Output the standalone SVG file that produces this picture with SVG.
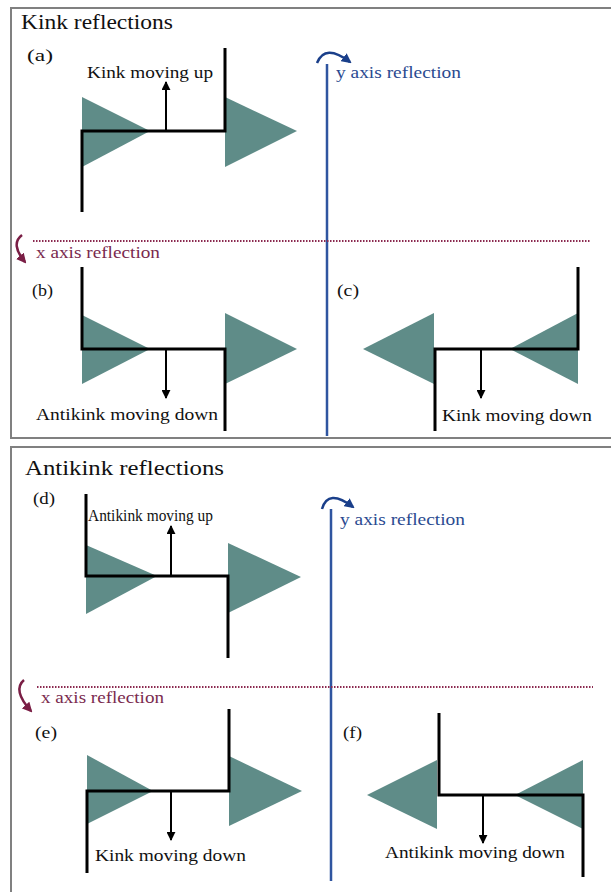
<svg xmlns="http://www.w3.org/2000/svg" width="611" height="892" viewBox="0 0 611 892">
<defs>
<style>
text{font-family:'Liberation Serif','Times New Roman',Times,serif;fill:#111;}
.title{font-size:22px;}
.lab{font-size:17px;}
.blue{fill:#2a4a90;}
.red{fill:#7a2a4e;}
.tri{fill:#5f8c88;}
.k{stroke:#000;stroke-width:3;fill:none;stroke-linejoin:miter;}
.arr{stroke:#000;stroke-width:2;fill:none;}
.frame{fill:none;stroke:#808080;stroke-width:2;}
.yax{stroke:#2f55a0;stroke-width:2.5;fill:none;}
.xax{stroke:#8b2a50;stroke-width:2;stroke-dasharray:1.5 1.5;fill:none;}
</style>
<marker id="ah" viewBox="0 0 10 10" refX="9" refY="5" markerWidth="9" markerHeight="9" markerUnits="userSpaceOnUse" orient="auto">
<path d="M0,0 L10,5 L0,10 Z" fill="#000"/>
</marker>
<marker id="ahb" viewBox="0 0 10 10" refX="8" refY="5" markerWidth="10" markerHeight="10" markerUnits="userSpaceOnUse" orient="auto">
<path d="M0,0 L10,5 L0,10 Z" fill="#1a3f8a"/>
</marker>
<marker id="ahr" viewBox="0 0 10 10" refX="8" refY="5" markerWidth="10" markerHeight="10" markerUnits="userSpaceOnUse" orient="auto">
<path d="M0,0 L10,5 L0,10 Z" fill="#7a1e45"/>
</marker>
</defs>
<rect width="611" height="892" fill="#fff"/>

<g id="frames">
<rect class="frame" x="11" y="8" width="620" height="430"/>
<rect class="frame" x="11" y="447" width="620" height="460"/>
</g>

<g id="titles">
<text class="title" x="21" y="29" textLength="152" lengthAdjust="spacingAndGlyphs">Kink reflections</text>
<text class="title" x="25" y="475" textLength="199" lengthAdjust="spacingAndGlyphs">Antikink reflections</text>
</g>

<g id="axes">
<line class="yax" x1="327" y1="64" x2="327" y2="436"/>
<path d="M317,63 Q325,43 350,62" stroke="#1a3f8a" stroke-width="2.5" fill="none" marker-end="url(#ahb)"/>
<text class="lab blue" x="336" y="78" textLength="125" lengthAdjust="spacingAndGlyphs">y axis reflection</text>
<line class="xax" x1="33" y1="241" x2="591" y2="241"/>
<path d="M22,235 Q10,244 25,262" stroke="#7a1e45" stroke-width="2.5" fill="none" marker-end="url(#ahr)"/>
<text class="lab red" x="36" y="258" textLength="124" lengthAdjust="spacingAndGlyphs">x axis reflection</text>

<line class="yax" x1="331" y1="509" x2="331" y2="881"/>
<path d="M322,509 Q328,488 353,507" stroke="#1a3f8a" stroke-width="2.5" fill="none" marker-end="url(#ahb)"/>
<text class="lab blue" x="340" y="525" textLength="125" lengthAdjust="spacingAndGlyphs">y axis reflection</text>
<line class="xax" x1="37" y1="687" x2="593" y2="687"/>
<path d="M24,680 Q12,690 31,711" stroke="#7a1e45" stroke-width="2.5" fill="none" marker-end="url(#ahr)"/>
<text class="lab red" x="41" y="703" textLength="123" lengthAdjust="spacingAndGlyphs">x axis reflection</text>
</g>

<g id="panel-a">
<text class="lab" x="27" y="61" textLength="26" lengthAdjust="spacingAndGlyphs">(a)</text>
<polygon class="tri" points="82,97 82,167 150,131"/>
<polygon class="tri" points="225,97 225,167 297,131"/>
<path class="k" d="M82,212 L82,131 L225,131 L225,48"/>
<line class="arr" x1="166" y1="131" x2="166" y2="82" marker-end="url(#ah)"/>
<text class="lab" x="87" y="78" textLength="126" lengthAdjust="spacingAndGlyphs">Kink moving up</text>
</g>

<g id="panel-b">
<text class="lab" x="32" y="296" textLength="21" lengthAdjust="spacingAndGlyphs">(b)</text>
<polygon class="tri" points="82,315 82,384 150,349"/>
<polygon class="tri" points="225,313 225,384 297,349"/>
<path class="k" d="M82,267 L82,349 L225,349 L225,431"/>
<line class="arr" x1="166" y1="349" x2="166" y2="398" marker-end="url(#ah)"/>
<text class="lab" x="36" y="420" textLength="182" lengthAdjust="spacingAndGlyphs">Antikink moving down</text>
</g>

<g id="panel-c">
<text class="lab" x="337" y="296" textLength="22" lengthAdjust="spacingAndGlyphs">(c)</text>
<polygon class="tri" points="434,313 434,384 363,349"/>
<polygon class="tri" points="578,313 578,384 510,349"/>
<path class="k" d="M578,267 L578,349 L435,349 L435,431"/>
<line class="arr" x1="481" y1="349" x2="481" y2="398" marker-end="url(#ah)"/>
<text class="lab" x="442" y="421" textLength="150" lengthAdjust="spacingAndGlyphs">Kink moving down</text>
</g>

<g id="panel-d">
<text class="lab" x="33" y="504" textLength="22" lengthAdjust="spacingAndGlyphs">(d)</text>
<polygon class="tri" points="86,545 86,614 157,576"/>
<polygon class="tri" points="228,543 228,613 301,577"/>
<path class="k" d="M86,494 L86,576 L228,576 L228,658"/>
<line class="arr" x1="171" y1="576" x2="171" y2="526" marker-end="url(#ah)"/>
<text class="lab" x="88" y="521" textLength="125" lengthAdjust="spacingAndGlyphs">Antikink moving up</text>
</g>

<g id="panel-e">
<text class="lab" x="35" y="738" textLength="22" lengthAdjust="spacingAndGlyphs">(e)</text>
<polygon class="tri" points="87,755 87,824 153,791"/>
<polygon class="tri" points="229,756 229,826 302,791"/>
<path class="k" d="M87,873 L87,791 L229,791 L229,709"/>
<line class="arr" x1="171" y1="791" x2="171" y2="840" marker-end="url(#ah)"/>
<text class="lab" x="95" y="861" textLength="151" lengthAdjust="spacingAndGlyphs">Kink moving down</text>
</g>

<g id="panel-f">
<text class="lab" x="343" y="738" textLength="19" lengthAdjust="spacingAndGlyphs">(f)</text>
<polygon class="tri" points="437,760 437,829 367,795"/>
<polygon class="tri" points="583,760 583,829 515,795"/>
<path class="k" d="M439,713 L439,795 L583,795 L583,877"/>
<line class="arr" x1="483" y1="795" x2="483" y2="843" marker-end="url(#ah)"/>
<text class="lab" x="385" y="858" textLength="180" lengthAdjust="spacingAndGlyphs">Antikink moving down</text>
</g>
</svg>
